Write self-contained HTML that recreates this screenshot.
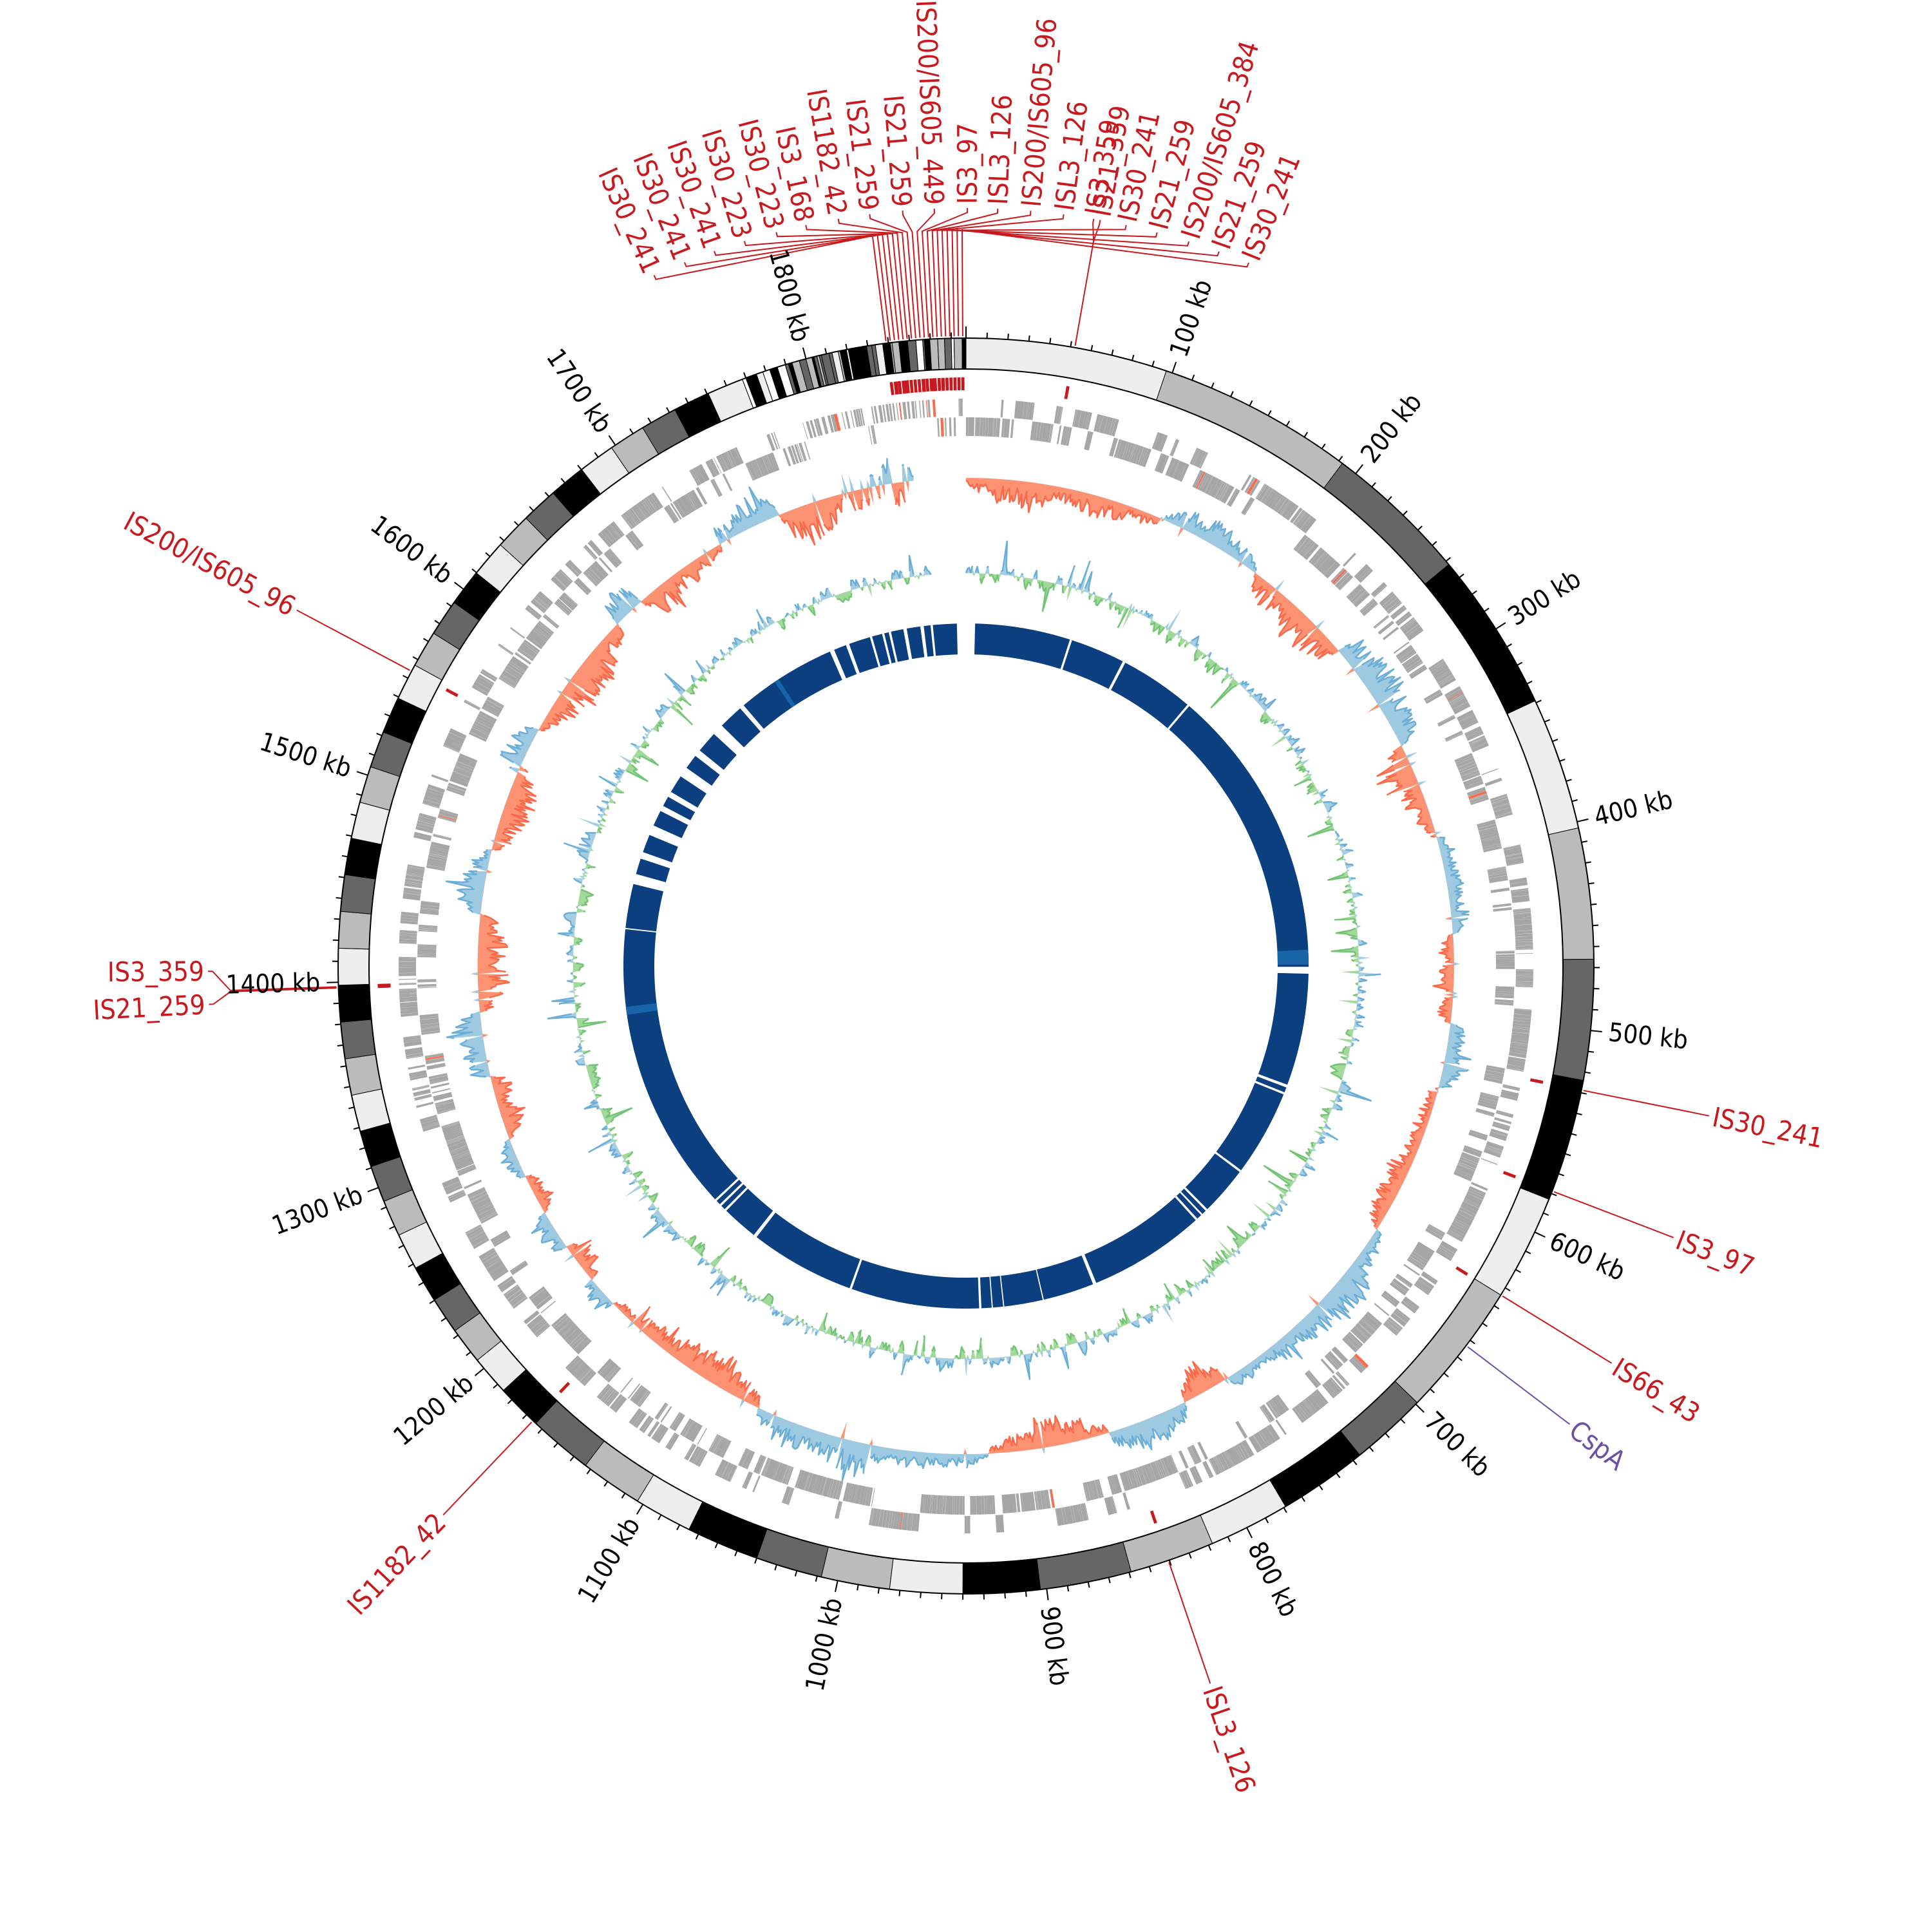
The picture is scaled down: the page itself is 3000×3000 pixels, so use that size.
<!DOCTYPE html>
<html><head><meta charset="utf-8">
<style>
html,body{margin:0;padding:0;background:#fff;}
svg{display:block}
text{font-family:"Liberation Sans Narrow","DejaVu Sans Condensed","Liberation Sans",sans-serif;}
.t{font-size:40px;fill:#000}
.r{font-size:42px;fill:#c8191e}
.p{font-size:42px;fill:#6a51a3}
</style></head><body>
<svg id="s" width="3000" height="3000" viewBox="0 0 3000 3000" xmlns="http://www.w3.org/2000/svg">
<g id="g"></g>
<g id="tl">
<text class="t" data-kb="100">100 kb</text>
<text class="t" data-kb="200">200 kb</text>
<text class="t" data-kb="300">300 kb</text>
<text class="t" data-kb="400">400 kb</text>
<text class="t" data-kb="500">500 kb</text>
<text class="t" data-kb="600">600 kb</text>
<text class="t" data-kb="700">700 kb</text>
<text class="t" data-kb="800">800 kb</text>
<text class="t" data-kb="900">900 kb</text>
<text class="t" data-kb="1000">1000 kb</text>
<text class="t" data-kb="1100">1100 kb</text>
<text class="t" data-kb="1200">1200 kb</text>
<text class="t" data-kb="1300">1300 kb</text>
<text class="t" data-kb="1400">1400 kb</text>
<text class="t" data-kb="1500">1500 kb</text>
<text class="t" data-kb="1600">1600 kb</text>
<text class="t" data-kb="1700">1700 kb</text>
<text class="t" data-kb="1800">1800 kb</text>
</g>
<g id="rl">
<text class="r" data-a="-24.3" data-d="-7.3">IS30_241</text>
<text class="r" data-a="-21.8" data-d="-6.91">IS30_241</text>
<text class="r" data-a="-19.4" data-d="-6.52">IS30_241</text>
<text class="r" data-a="-17.0" data-d="-6.13">IS30_223</text>
<text class="r" data-a="-14.5" data-d="-5.74">IS30_223</text>
<text class="r" data-a="-12.2" data-d="-5.36">IS3_168</text>
<text class="r" data-a="-9.7" data-d="-4.97">IS1182_42</text>
<text class="r" data-a="-7.3" data-d="-4.58">IS21_259</text>
<text class="r" data-a="-4.8" data-d="-4.19">IS21_259</text>
<text class="r" data-a="-2.4" data-d="-3.8">IS200/IS605_449</text>
<text class="r" data-a="0.1" data-d="-3.41">IS3_97</text>
<text class="r" data-a="2.4" data-d="-3.02">ISL3_126</text>
<text class="r" data-a="4.9" data-d="-2.63">IS200/IS605_96</text>
<text class="r" data-a="7.4" data-d="-2.24">ISL3_126</text>
<text class="r" data-a="9.7" data-d="9.98">IS3_359</text>
<text class="r" data-a="10.2" data-d="9.98">IS21_359</text>
<text class="r" data-a="12.2" data-d="-1.86">IS30_241</text>
<text class="r" data-a="14.6" data-d="-1.47">IS21_259</text>
<text class="r" data-a="17.1" data-d="-1.08">IS200/IS605_384</text>
<text class="r" data-a="19.5" data-d="-0.69">IS21_259</text>
<text class="r" data-a="21.9" data-d="-0.3">IS30_241</text>
<text class="r" data-a="101.4" data-d="101.4">IS30_241</text>
<text class="r" data-a="111" data-d="111">IS3_97</text>
<text class="r" data-a="121.6" data-d="121.6">IS66_43</text>
<text class="p" data-a="127.2" data-d="127.2" data-c="#6a51a3">CspA</text>
<text class="r" data-a="161.2" data-d="161.2">ISL3_126</text>
<text class="r" data-a="223.6" data-d="223.6">IS1182_42</text>
<text class="r" data-a="269.6" data-d="268.1">IS3_359</text>
<text class="r" data-a="267.1" data-d="268.0">IS21_259</text>
<text class="r" data-a="298" data-d="298">IS200/IS605_96</text>
</g>
</svg>
<script>
(function(){
const C=1500,L=1877,D=360/L;
let seed=12345;
function R(){seed|=0;seed=seed+0x6D2B79F5|0;let t=Math.imul(seed^seed>>>15,1|seed);t=t+Math.imul(t^t>>>7,61|t)^t;return((t^t>>>14)>>>0)/4294967296;}
function P(r,a){const t=a*Math.PI/180;return[C+r*Math.sin(t),C-r*Math.cos(t)];}
function f(n){return n.toFixed(1);}
function sec(r1,r2,a1,a2){const p1=P(r2,a1),p2=P(r2,a2),p3=P(r1,a2),p4=P(r1,a1);const lg=(a2-a1)>180?1:0;
return`M${f(p1[0])},${f(p1[1])}A${r2},${r2} 0 ${lg} 1 ${f(p2[0])},${f(p2[1])}L${f(p3[0])},${f(p3[1])}A${r1},${r1} 0 ${lg} 0 ${f(p4[0])},${f(p4[1])}Z`;}
let out='';
const col={L:'#eeeeee',G:'#bbbbbb',D:'#666666',B:'#000000',W:'#ffffff'};
let bands=[[0,'L'],[97,'G'],[192,'D'],[262,'B'],[339,'L'],[403,'G'],[466,'D'],[524,'B'],[583,'L'],[634,'G'],[699,'D'],[736,'B'],[779,'L'],[818,'G'],[859,'D'],[903,'B'],[940,'L'],[975,'G'],[1008,'D'],[1040,'B'],[1075,'L'],[1103,'G'],[1133,'D'],[1164,'B'],[1186,'L']];
let k=1205,cyc='GDBL',i=0;
while(k<1765){bands.push([k,cyc[i%4]]);k+=17.6;i++;}
const fc='LGDBBDGW';
while(k<L-0.5){bands.push([k,fc[(R()*fc.length)|0]]);k+=0.8+R()*3.2;}
for(let j=0;j<bands.length;j++){const s=bands[j][0],e=(j+1<bands.length?bands[j+1][0]:L);
out+=`<path d="${sec(927,975,s*D,e*D)}" fill="${col[bands[j][1]]}" stroke="#000" stroke-width="1"/>`;}
out+=`<circle cx="${C}" cy="${C}" r="975" fill="none" stroke="#000" stroke-width="2"/><circle cx="${C}" cy="${C}" r="927" fill="none" stroke="#000" stroke-width="2"/>`;
let tk='';
for(let kb=0;kb<L;kb+=10){const a=kb*D,maj=kb%100==0;const p1=P(975,a),p2=P(maj?993:984,a);tk+=`M${f(p1[0])},${f(p1[1])}L${f(p2[0])},${f(p2[1])}`;}
out+=`<path d="${tk}" stroke="#000" stroke-width="2" fill="none"/>`;
// genes (dense)
let gp='',gr='',pos=0,lane=0;
while(pos<L-2){const len=0.3+R()*1.4;if(R()<0.14)lane=1-lane;
const rr=lane?[854,881]:[823,852];const red=(R()<0.004)||(pos>1838&&R()<0.2);
const s=sec(rr[0],rr[1],pos*D,(pos+len)*D);if(red)gr+=s;else gp+=s;
pos+=len+(R()<0.03?R()*1.5:R()*0.08);if(pos>1770)pos+=R()*1.8;}
out+=`<path d="${gp}" fill="#a6a6a6"/><path d="${gr}" fill="#fb6a4a"/>`;
const segs=[[0,125,1],[125,190,-1],[190,260,1],[260,330,-1],[330,390,1],[390,450,-1],[450,505,1],[505,545,-1],[545,640,1],[640,770,-1],[770,800,1],[800,850,-1],[850,925,1],[925,1070,-1],[1070,1180,1],[1180,1200,-1],[1200,1225,1],[1225,1250,-1],[1250,1275,1],[1275,1300,-1],[1300,1340,1],[1340,1380,-1],[1380,1440,1],[1440,1480,-1],[1480,1530,1],[1530,1560,-1],[1560,1640,1],[1640,1660,-1],[1660,1720,1],[1720,1760,-1],[1760,1800,1],[1800,1846,0]];
function sk(){const v=[];let env=40;
for(const sg of segs){for(let x=sg[0];x<sg[1];x+=1){let s=sg[2];if(s==0)s=R()<0.5?1:-1;
env+=(R()-0.5)*10;env=Math.max(22,Math.min(58,env));
const tp=Math.pow(Math.sin(Math.PI*(x-sg[0]+0.5)/(sg[1]-sg[0])),0.35);
let m=env*(0.3+0.7*R())*tp;if(R()<0.08)m*=1.3;
if(R()<0.03)s=-s,m*=0.5;
v.push([x,s*m]);}}return v;}
function track(v,base,dirPos,colPos,strPos,colNeg,strNeg){
let res='';
for(const sgn of [1,-1]){
const fill=sgn>0?colPos:colNeg,str=sgn>0?strPos:strNeg;
let d='',e='',prev0=true;const st=P(base,v[0][0]*D);d=`M${f(st[0])},${f(st[1])}`;
for(const [x,val] of v){const m=sgn>0?Math.max(val,0):Math.max(-val,0);const r=base+(sgn>0?dirPos:-dirPos)*m;const p=P(r,x*D);
d+=`L${f(p[0])},${f(p[1])}`;
if(m>0){e+=(prev0?'M':'L')+f(p[0])+','+f(p[1]);prev0=false;}else prev0=true;}
const en=P(base,v[v.length-1][0]*D);d+=`L${f(en[0])},${f(en[1])}A${base},${base} 0 1 0 ${f(st[0])},${f(st[1])}Z`;
res+=`<path d="${d}" fill="${fill}"/><path d="${e}" fill="none" stroke="${str}" stroke-width="2.5" stroke-linejoin="round"/>`;}
return res;}
const sv=sk();
out+=track(sv,758,-1,'#fc9272','#fb6a4a','#9ecae1','#6baed6');
const gv=[];let xx=0;
for(let x=0;x<1851;x+=1.2){xx=0.55*xx+(R()-0.5)*24;let v=xx;if(R()<0.06)v+=(R()<0.5?1:-1)*(18+R()*25);gv.push([x,v]);}
out+=track(gv,610,1,'#a6cee3','#6baed6','#a1d99b','#74c476');
const gaps=[[-4,12],[92,2],[142,2.5],[210,2],[470,6],[575,2.5],[582,2],[660,2],[705,2],[711,1.5],[717,2],[822,3],[870,1],[905,1],[915,1],[925,2],[1040,2],[1135,3],[1170,2],[1176,2],[1182,2],[1440,1],[1480,9],[1503,6],[1525,9],[1548,5],[1562,5],[1583,9],[1605,6],[1630,10],[1662,4],[1755,4],[1770,3],[1792,2],[1803,2],[1809,2],[1822,3],[1837,3],[1846,2],[1869,5]];
let st=8;let ip='';
for(let j=1;j<gaps.length;j++){const e=gaps[j][0];if(e>st)ip+=sec(484,532,st*D,e*D);st=gaps[j][0]+gaps[j][1];}
out+=`<path d="${ip}" fill="#0b3f7f"/>`;
out+=`<path d="${sec(484,532,455*D,468*D)}${sec(484,532,1365*D,1372*D)}${sec(484,532,1700*D,1704*D)}" fill="#1765a8"/>`;
let ld='',lp='',marks='';
document.querySelectorAll('#rl text').forEach(t=>{const a=+t.dataset.a,d=+t.dataset.d;
const p1=P(978,d),p2=P(1143,d),p3=P(1170,a),p4=P(1177,a);
const s=`M${f(p1[0])},${f(p1[1])}L${f(p2[0])},${f(p2[1])}L${f(p3[0])},${f(p3[1])}L${f(p4[0])},${f(p4[1])}`;
if(t.dataset.c)lp+=s;else{ld+=s;marks+=sec(894,914,d-0.15,d+0.15);}
const q=P(1183,a);let an=((a%360)+360)%360;
t.setAttribute('x',f(q[0]));t.setAttribute('y',f(q[1]));t.setAttribute('dominant-baseline','central');
if(an<180){t.setAttribute('text-anchor','start');t.setAttribute('transform',`rotate(${a-90} ${f(q[0])} ${f(q[1])})`);}
else{t.setAttribute('text-anchor','end');t.setAttribute('transform',`rotate(${a+90} ${f(q[0])} ${f(q[1])})`);}
});
for(let j=0;j<6;j++){const d=-6.8+j*0.9;marks+=sec(894,914,d-0.12,d+0.12);}
out+=`<path d="${marks}" fill="#c8191e"/><path d="${ld}" fill="none" stroke="#c8191e" stroke-width="2"/><path d="${lp}" fill="none" stroke="#6a51a3" stroke-width="2"/>`;
document.getElementById('g').innerHTML=out;
document.querySelectorAll('#tl text').forEach(t=>{const a=+t.dataset.kb*D;const q=P(1003,a);
t.setAttribute('x',f(q[0]));t.setAttribute('y',f(q[1]));t.setAttribute('dominant-baseline','central');
if(a<180){t.setAttribute('text-anchor','start');t.setAttribute('transform',`rotate(${a-90} ${f(q[0])} ${f(q[1])})`);}
else{t.setAttribute('text-anchor','end');t.setAttribute('transform',`rotate(${a+90} ${f(q[0])} ${f(q[1])})`);}
});
})();
</script>
</body></html>
